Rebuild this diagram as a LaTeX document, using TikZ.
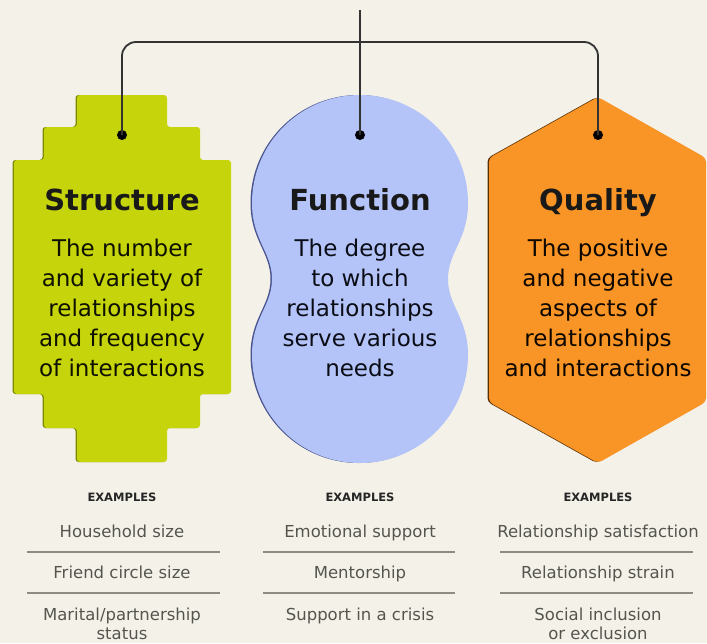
\documentclass[tikz,border=0pt]{standalone}
\usepackage{fontspec}
\setmainfont{DejaVu Sans}
\begin{document}
\begin{tikzpicture}[x=1pt,y=-1pt,
  title/.style={anchor=base,inner sep=0pt,font=\fontsize{29}{30}\selectfont\bfseries,text=black!90},
  body/.style={anchor=center,inner sep=0pt,align=center,font=\fontsize{23}{30}\selectfont},
  exhead/.style={anchor=base,inner sep=0pt,font=\fontsize{11.5}{12}\selectfont\bfseries,text=black!85},
  extext/.style={anchor=base,inner sep=0pt,align=center,font=\fontsize{16.5}{19}\selectfont,text=exgray},
  sepline/.style={draw=sepgray,line width=1.8pt},
  conn/.style={draw=black!80,line width=1.8pt},
  dot/.style={circle,fill=black,inner sep=0pt,minimum size=10pt}]
\definecolor{bg}{HTML}{F4F1E8}
\definecolor{limeg}{HTML}{C6D40B}
\definecolor{limesh}{HTML}{7E8A00}
\definecolor{peri}{HTML}{B4C4F8}
\definecolor{perish}{HTML}{4A5590}
\definecolor{orng}{HTML}{F89526}
\definecolor{orngsh}{HTML}{5A2E00}
\definecolor{exgray}{HTML}{55554F}
\definecolor{sepgray}{HTML}{8C8B84}
\fill[bg] (0,0) rectangle (707,643);
\useasboundingbox (0,0) rectangle (707,643);

% Structure shape
\def\greenpath{(77,95) -- (167,95) -- (167,127) -- (200,127) -- (200,160) -- (231,160) -- (231,394) -- (200,394) -- (200,428) -- (167,428) -- (167,462) -- (77,462) -- (77,428) -- (44,428) -- (44,394) -- (14,394) -- (14,160) -- (44,160) -- (44,127) -- (77,127) -- cycle}
\fill[limesh,rounded corners=3pt,xshift=-1.5pt] \greenpath;
\fill[limeg,rounded corners=3pt] \greenpath;

% Function shape
\def\bluepath{(252,203) arc[start angle=180,end angle=360,radius=108]
  .. controls (468,240) and (448,252) .. (448,279)
  .. controls (448,306) and (468,318) .. (468,355)
  arc[start angle=0,end angle=180,radius=108]
  .. controls (252,318) and (272,306) .. (272,279)
  .. controls (272,252) and (252,240) .. (252,203) -- cycle}
\fill[perish,xshift=-1.5pt] \bluepath;
\fill[peri] \bluepath;

% Quality shape
\def\orangepath{(598,97) -- (706,158) -- (706,402) -- (598,463) -- (489,402) -- (489,158) -- cycle}
\fill[orngsh,rounded corners=4pt,xshift=-1.5pt] \orangepath;
\fill[orng,rounded corners=4pt] \orangepath;

% connectors
\coordinate (top) at (360,10);
\coordinate (bar) at (360,42);
\node[dot] (d1) at (122,135) {};
\node[dot] (d2) at (360,135) {};
\node[dot] (d3) at (598,135) {};
\draw[conn] (top) -- (d2.center);
\draw[conn,rounded corners=14pt] (d1.center) -- (d1.center |- bar) -- (d3.center |- bar) -- (d3.center);

% titles
\node[title] (t1) at (122,210) {Structure};
\node[title] (t2) at (360,210) {Function};
\node[title] (t3) at (598,210) {Quality};

% bodies
\node[body,text=black!88!limesh] (b1) at (122,308) {The number\\and variety of\\relationships\\and frequency\\of interactions};
\node[body,text=black!85!perish] (b2) at (360,308) {The degree\\to which\\relationships\\serve various\\needs};
\node[body,text=black!85!orngsh] (b3) at (598,308) {The positive\\and negative\\aspects of\\relationships\\and interactions};

% examples
\node[exhead] (e1) at (122,501) {EXAMPLES};
\node[exhead] (e2) at (360,501) {EXAMPLES};
\node[exhead] (e3) at (598,501) {EXAMPLES};

\node[extext] (x11) at (122,537) {Household size};
\node[extext] (x12) at (122,578) {Friend circle size};
\node[extext] (x13) at (122,639) {Marital/partnership\\status};
\node[extext] (x21) at (360,537) {Emotional support};
\node[extext] (x22) at (360,578) {Mentorship};
\node[extext] (x23) at (360,620) {Support in a crisis};
\node[extext] (x31) at (598,537) {Relationship satisfaction};
\node[extext] (x32) at (598,578) {Relationship strain};
\node[extext] (x33) at (598,639) {Social inclusion\\or exclusion};

\draw[sepline] (27,552) -- (220,552);
\draw[sepline] (27,593) -- (220,593);
\draw[sepline] (263,552) -- (455,552);
\draw[sepline] (263,593) -- (455,593);
\draw[sepline] (500,552) -- (693,552);
\draw[sepline] (500,593) -- (693,593);
\end{tikzpicture}
\end{document}
